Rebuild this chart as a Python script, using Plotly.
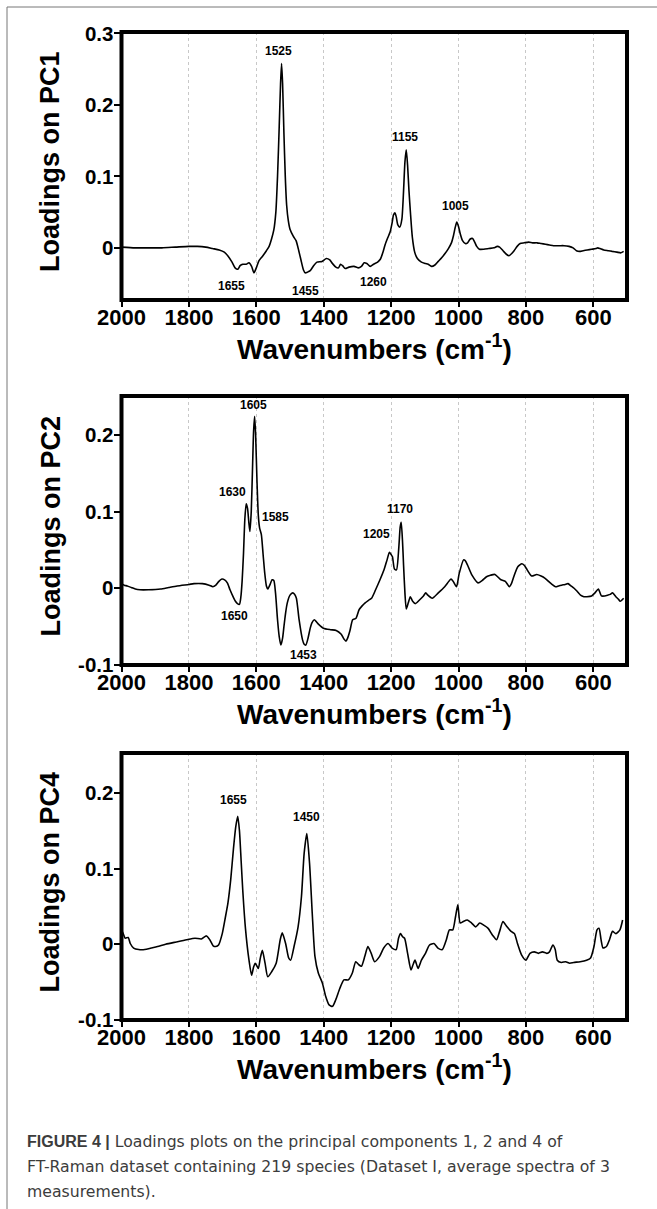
import plotly.graph_objects as go

# ---------------- data: PCA loadings of FT-Raman spectra ----------------
pc1_wn = [2000, 1960, 1920, 1880, 1840, 1800, 1775, 1750, 1730, 1710, 1695, 1683,
          1672, 1663, 1655, 1648, 1640, 1630, 1622, 1614, 1607, 1600, 1592, 1582,
          1570, 1562, 1555, 1548, 1542, 1537, 1532, 1528, 1525, 1522, 1518, 1514,
          1510, 1505, 1500, 1490, 1482, 1474, 1466, 1460, 1455, 1448, 1440, 1430,
          1420, 1405, 1392, 1382, 1374, 1364, 1356, 1350, 1344, 1336, 1325, 1310,
          1298, 1288, 1280, 1272, 1262, 1252, 1240, 1232, 1224, 1218, 1210, 1203,
          1197, 1193, 1189, 1185, 1180, 1174, 1168, 1163, 1159, 1155, 1151, 1147,
          1142, 1137, 1130, 1122, 1110, 1098, 1090, 1080, 1070, 1060, 1050, 1040,
          1030, 1021, 1015, 1010, 1005, 1000, 995, 988, 980, 973, 966, 958, 952,
          946, 938, 925, 910, 895, 885, 878, 868, 858, 850, 842, 835, 826, 817,
          805, 792, 780, 767, 755, 742, 730, 718, 700, 687, 672, 660, 650, 641,
          630, 618, 605, 592, 587, 580, 569, 555, 544, 530, 518, 510]
pc1_val = [0.001, 0.000, 0.000, 0.000, 0.001, 0.002, 0.002, 0.001, -0.001, -0.003,
           -0.006, -0.012, -0.020, -0.028, -0.030, -0.025, -0.023, -0.023, -0.021,
           -0.026, -0.035, -0.028, -0.018, -0.012, -0.004, 0.002, 0.012, 0.025,
           0.050, 0.100, 0.170, 0.230, 0.258, 0.230, 0.160, 0.100, 0.060, 0.038,
           0.026, 0.016, 0.010, -0.004, -0.020, -0.031, -0.035, -0.034, -0.032,
           -0.025, -0.020, -0.019, -0.015, -0.017, -0.022, -0.027, -0.028, -0.023,
           -0.025, -0.029, -0.027, -0.026, -0.028, -0.026, -0.021, -0.022, -0.026,
           -0.023, -0.020, -0.016, -0.006, 0.004, 0.014, 0.022, 0.035, 0.046, 0.049,
           0.044, 0.032, 0.029, 0.040, 0.080, 0.120, 0.137, 0.115, 0.080, 0.045,
           0.015, -0.006, -0.015, -0.020, -0.022, -0.023, -0.026, -0.024, -0.019,
           -0.014, -0.008, -0.001, 0.007, 0.017, 0.028, 0.036, 0.030, 0.020, 0.010,
           0.006, 0.007, 0.012, 0.013, 0.008, 0.002, -0.002, -0.002, -0.001, 0.000,
           0.002, 0.001, -0.004, -0.009, -0.011, -0.008, -0.004, 0.002, 0.006,
           0.007, 0.008, 0.007, 0.007, 0.006, 0.005, 0.004, 0.003, 0.003, 0.003,
           0.002, 0.000, -0.004, -0.005, -0.004, -0.003, -0.002, -0.001, 0.000,
           -0.001, -0.003, -0.004, -0.005, -0.006, -0.007, -0.005]

pc2_wn = [2000, 1992, 1983, 1971, 1959, 1945, 1920, 1884, 1860, 1835, 1800, 1785,
          1760, 1740, 1729, 1720, 1711, 1702, 1694, 1686, 1678, 1670, 1662, 1656,
          1650, 1646, 1642, 1638, 1634, 1630, 1626, 1622, 1619, 1615, 1611, 1608,
          1605, 1602, 1598, 1594, 1590, 1585, 1580, 1575, 1570, 1566, 1560, 1553,
          1548, 1543, 1537, 1532, 1527, 1522, 1518, 1513, 1508, 1500, 1492, 1486,
          1481, 1473, 1463, 1458, 1453, 1447, 1440, 1435, 1428, 1415, 1401, 1380,
          1363, 1348, 1340, 1334, 1329, 1322, 1314, 1304, 1295, 1286, 1277, 1268,
          1258, 1246, 1233, 1221, 1212, 1205, 1200, 1196, 1190, 1184, 1177, 1173,
          1170, 1166, 1163, 1159, 1155, 1149, 1143, 1136, 1128, 1115, 1104, 1097,
          1091, 1078, 1060, 1041, 1022, 1016, 1006, 998, 985, 980, 973, 960, 942,
          930, 917, 905, 892, 874, 861, 849, 843, 836, 824, 812, 805, 799, 783,
          768, 755, 743, 725, 712, 703, 694, 684, 675, 666, 657, 648, 638, 628,
          619, 605, 595, 585, 576, 566, 557, 550, 543, 533, 526, 520, 510]
pc2_val = [0.006, 0.004, 0.003, 0.001, -0.001, -0.002, -0.002, -0.001, 0.001,
           0.003, 0.005, 0.006, 0.006, 0.004, 0.002, 0.004, 0.009, 0.012, 0.011,
           0.007, -0.002, -0.010, -0.017, -0.020, -0.021, -0.012, 0.010, 0.045,
           0.090, 0.110, 0.104, 0.085, 0.074, 0.100, 0.160, 0.205, 0.224, 0.200,
           0.140, 0.095, 0.078, 0.070, 0.045, 0.020, 0.003, -0.001, 0.004, 0.011,
           0.010, -0.006, -0.041, -0.063, -0.074, -0.065, -0.050, -0.032, -0.019,
           -0.009, -0.006, -0.008, -0.013, -0.041, -0.067, -0.073, -0.074, -0.066,
           -0.052, -0.045, -0.041, -0.047, -0.052, -0.054, -0.055, -0.060, -0.066,
           -0.069, -0.065, -0.055, -0.041, -0.039, -0.028, -0.023, -0.019, -0.016,
           -0.013, -0.002, 0.011, 0.024, 0.037, 0.047, 0.044, 0.041, 0.025, 0.024,
           0.054, 0.080, 0.086, 0.060, 0.030, -0.006, -0.027, -0.019, -0.011,
           -0.017, -0.020, -0.015, -0.010, -0.006, -0.009, -0.013, -0.006, 0.002,
           0.012, 0.009, 0.002, 0.019, 0.037, 0.036, 0.030, 0.017, 0.007, 0.010,
           0.015, 0.017, 0.018, 0.011, 0.009, 0.002, 0.006, 0.015, 0.028, 0.032,
           0.030, 0.026, 0.016, 0.018, 0.016, 0.013, 0.006, 0.002, 0.003, 0.004,
           0.005, 0.006, 0.003, 0.000, -0.004, -0.009, -0.011, -0.011, -0.010,
           -0.006, -0.001, -0.010, -0.010, -0.009, -0.008, -0.006, -0.011, -0.014,
           -0.017, -0.013]

pc4_wn = [2000, 1995, 1989, 1980, 1974, 1964, 1949, 1931, 1912, 1893, 1869, 1838,
          1807, 1782, 1763, 1748, 1738, 1728, 1720, 1712, 1701, 1692, 1684, 1676,
          1668, 1661, 1655, 1650, 1645, 1640, 1632, 1622, 1614, 1608, 1603, 1594,
          1588, 1582, 1574, 1566, 1554, 1541, 1529, 1523, 1513, 1504, 1498, 1488,
          1476, 1466, 1458, 1450, 1442, 1434, 1426, 1416, 1404, 1394, 1384, 1374,
          1364, 1352, 1340, 1327, 1315, 1305, 1296, 1288, 1278, 1269, 1259, 1249,
          1234, 1222, 1209, 1197, 1185, 1178, 1172, 1166, 1160, 1151, 1141, 1135,
          1129, 1120, 1110, 1098, 1086, 1073, 1061, 1048, 1036, 1027, 1017, 1009,
          1002, 995, 986, 974, 961, 949, 937, 924, 912, 899, 887, 878, 868, 856,
          844, 834, 825, 813, 800, 788, 775, 763, 751, 738, 730, 720, 713, 707,
          695, 682, 670, 658, 639, 620, 608, 598, 589, 583, 577, 571, 561, 552,
          543, 533, 521, 513]
pc4_val = [0.019, 0.014, 0.008, 0.009, 0.001, -0.005, -0.007, -0.007, -0.005,
           -0.003, 0.000, 0.003, 0.006, 0.008, 0.007, 0.011, 0.006, -0.002, -0.003,
           -0.001, 0.014, 0.035, 0.055, 0.085, 0.125, 0.155, 0.169, 0.150, 0.110,
           0.070, 0.020, -0.020, -0.041, -0.030, -0.025, -0.032, -0.018, -0.008,
           -0.025, -0.043, -0.036, -0.025, 0.006, 0.015, 0.001, -0.018, -0.021,
           -0.003, 0.023, 0.063, 0.120, 0.146, 0.107, 0.041, -0.016, -0.038,
           -0.051, -0.069, -0.080, -0.082, -0.073, -0.058, -0.047, -0.047, -0.038,
           -0.023, -0.027, -0.029, -0.016, -0.003, -0.012, -0.023, -0.016, -0.005,
           0.001, -0.005, -0.007, 0.008, 0.014, 0.010, 0.008, -0.012, -0.034,
           -0.027, -0.021, -0.032, -0.021, -0.012, -0.001, 0.001, -0.005, -0.007,
           0.006, 0.019, 0.019, 0.036, 0.052, 0.028, 0.030, 0.032, 0.028, 0.023,
           0.028, 0.025, 0.021, 0.012, 0.006, 0.017, 0.030, 0.023, 0.017, 0.014,
           0.001, -0.014, -0.021, -0.012, -0.010, -0.012, -0.010, -0.012, -0.010,
           -0.001, -0.007, -0.021, -0.024, -0.023, -0.025, -0.024, -0.023, -0.021,
           -0.018, -0.003, 0.019, 0.021, 0.006, -0.005, -0.003, 0.006, 0.017,
           0.014, 0.019, 0.032]

# band labels (wavenumber positions of annotated peaks / troughs)
pc1_bands = [1525, 1155, 1005, 1655, 1455, 1260]
pc2_bands = [1605, 1630, 1585, 1650, 1453, 1205, 1170]
pc4_bands = [1655, 1450]

x_tick_vals = [2000, 1800, 1600, 1400, 1200, 1000, 800, 600]
x_tick_text = ["2000", "1800", "1600", "1400", "1200", "1000", "800", "600"]
pc1_y_ticks = [0, 0.1, 0.2, 0.3]
pc1_y_text = ["0", "0.1", "0.2", "0.3"]
pc2_y_ticks = [-0.1, 0, 0.1, 0.2]
pc2_y_text = ["-0.1", "0", "0.1", "0.2"]
pc4_y_ticks = [-0.1, 0, 0.1, 0.2]
pc4_y_text = ["-0.1", "0", "0.1", "0.2"]

y_titles = ["Loadings on PC1", "Loadings on PC2", "Loadings on PC4"]
x_title = "Wavenumbers (cm<sup>-1</sup>)"
caption_head = "FIGURE 4 |"
caption_lines = [
    " Loadings plots on the principal components 1, 2 and 4 of",
    "FT-Raman dataset containing 219 species (Dataset I, average spectra of 3",
    "measurements).",
]

# ---------------- page geometry (pixels) ----------------
W, H = 657, 1209
BOX_L, BOX_R = 121.5, 627
boxes = [(32, 300), (396, 665), (753, 1020)]          # top, bottom of each frame
y_ranges = [[-0.073, 0.302], [-0.1, 0.2505], [-0.1, 0.2525]]
# label offsets (xshift, yshift) in px relative to the band position on the curve
pc1_shift = [(-3, 12), (-1, 13), (-1, 16), (-6, -17), (0, -18), (3, -16)]
pc2_shift = [(-1, 11), (-14, 12), (14, 18), (-5, -12), (-2, -10), (-13, 18), (-1, 13)]
pc4_shift = [(-4, 16), (0, 17)]


def fy(px):
    return 1 - px / H


def fx(px):
    return px / W


panels = [
    (pc1_wn, pc1_val, pc1_bands, pc1_shift, pc1_y_ticks, pc1_y_text),
    (pc2_wn, pc2_val, pc2_bands, pc2_shift, pc2_y_ticks, pc2_y_text),
    (pc4_wn, pc4_val, pc4_bands, pc4_shift, pc4_y_ticks, pc4_y_text),
]

fig = go.Figure()
layout = dict(
    width=W, height=H, margin=dict(l=0, r=0, t=0, b=0),
    paper_bgcolor="white", plot_bgcolor="white", showlegend=False,
    template="none",
)
annotations = []
shapes = []
xtick_font = dict(family="Liberation Sans", size=22, color="black", weight="bold")
ytick_font = dict(family="Liberation Sans", size=20.5, color="black", weight="bold")
xtitle_font = dict(family="Liberation Sans", size=28, color="black", weight="bold")
ytitle_font = dict(family="Liberation Sans", size=27, color="black", weight="bold")
band_font = dict(family="Liberation Sans", size=12, color="black", weight="bold")


def value_at(wn_list, val_list, w):
    i = min(range(len(wn_list)), key=lambda k: abs(wn_list[k] - w))
    return val_list[i]


for i, (wn, val, bands, shifts, yt, ytt) in enumerate(panels):
    n = "" if i == 0 else str(i + 1)
    top, bot = boxes[i]
    fig.add_trace(go.Scatter(
        x=wn, y=val, mode="lines", xaxis="x" + n, yaxis="y" + n,
        line=dict(color="black", width=1.6, shape="spline", smoothing=0.6),
        hoverinfo="skip",
    ))
    layout["xaxis" + n] = dict(
        domain=[fx(BOX_L), fx(BOX_R)], anchor="y" + n, range=[2000, 500],
        tickvals=x_tick_vals, ticktext=x_tick_text, ticks="outside", ticklen=6,
        tickwidth=1.5, tickcolor="black", tickfont=xtick_font,
        ticklabelstandoff=-8,
        showgrid=True, gridcolor="#c8c8c8", griddash="dot", gridwidth=1,
        zeroline=False, showline=False,
    )
    layout["yaxis" + n] = dict(
        domain=[fy(bot), fy(top)], anchor="x" + n, range=y_ranges[i],
        tickvals=yt, ticktext=ytt, ticks="outside", ticklen=7, tickwidth=1.5,
        tickcolor="black", tickfont=ytick_font, ticklabelstandoff=-4,
        showgrid=False, zeroline=False, showline=False,
    )
    # heavy frame around the plotting area
    shapes.append(dict(type="rect", xref="x%s domain" % n, yref="y%s domain" % n,
                       x0=0, x1=1, y0=0, y1=1, line=dict(color="black", width=4),
                       layer="above"))
    # band labels
    for b, (dx, dy) in zip(bands, shifts):
        annotations.append(dict(
            x=b, y=value_at(wn, val, b), xref="x" + n, yref="y" + n,
            text=str(b), showarrow=False, xshift=dx, yshift=dy, font=band_font,
        ))
    # axis titles
    annotations.append(dict(
        x=fx((BOX_L + BOX_R) / 2), y=fy(bot + 47), xref="paper", yref="paper",
        text=x_title, showarrow=False, font=xtitle_font,
        xanchor="center", yanchor="middle",
    ))
    annotations.append(dict(
        x=fx(50), y=fy((top + bot) / 2 - 4), xref="paper", yref="paper",
        text=y_titles[i], showarrow=False, font=ytitle_font, textangle=-90,
        xanchor="center", yanchor="middle",
    ))

# caption (bold figure label followed by the legend text)
caption_y = [1141, 1166, 1191]
for k, (line, cy) in enumerate(zip(caption_lines, caption_y)):
    text = line
    if k == 0:
        text = ("<span style='font-family:Liberation Sans;font-size:16px'><b>"
                + caption_head + "</b></span>" + line)
    annotations.append(dict(
        x=fx(25), y=fy(cy), xref="paper", yref="paper", text=text,
        showarrow=False, xanchor="left", yanchor="middle", align="left",
        font=dict(family="DejaVu Sans", size=15.7, color="#3c3c3c"),
    ))

# outer figure frame (top and left edges)
shapes.append(dict(type="line", xref="paper", yref="paper", x0=fx(7), x1=1.02,
                   y0=fy(7), y1=fy(7), line=dict(color="#777777", width=1)))
shapes.append(dict(type="line", xref="paper", yref="paper", x0=fx(7), x1=fx(7),
                   y0=fy(7), y1=-0.01, line=dict(color="#777777", width=1)))

layout["annotations"] = annotations
layout["shapes"] = shapes
fig.update_layout(**layout)
fig.write_html("out.html")
